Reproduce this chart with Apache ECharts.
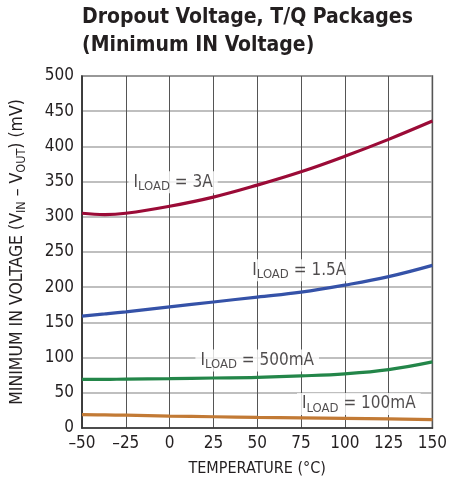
<!DOCTYPE html>
<html><head><meta charset="utf-8">
<script src="https://cdn.jsdelivr.net/npm/echarts@6/dist/echarts.min.js"></script>
<style>html,body{margin:0;padding:0;background:#fff}#c{width:450px;height:485px}</style>
</head><body><div id="c"></div>
<script>
const temps = [-50, -37, -25, 0, 25, 50, 75, 100, 125, 150];
const load3A    = [305, 303, 305, 315, 328, 345, 364, 386, 410, 436];
const load1p5A  = [159, 162, 165, 172, 179, 186, 193, 203, 215, 231];
const load500mA = [69, 69, 69.5, 70, 71, 72, 74, 77, 83, 94];
const load100mA = [19, 18.6, 18.2, 17, 16, 15, 14.3, 13.7, 13, 12];
const xTicks = [-50, -25, 0, 25, 50, 75, 100, 125, 150];
const yTicks = [0, 50, 100, 150, 200, 250, 300, 350, 400, 450, 500];
const curveLabels = [
  {x: 2, y: 349, load: '3A'},
  {x: 74, y: 224, load: '1.5A'},
  {x: 50, y: 96, load: '500mA'},
  {x: 108, y: 34, load: '100mA'}
];
const FONT = '"DejaVu Sans Condensed", "Liberation Sans", sans-serif';
const pair = (ys) => temps.map((t, i) => [t, ys[i]]);
const chart = echarts.init(document.getElementById('c'), null, {renderer: 'canvas'});
const lineSeries = (data, color) => ({
  type: 'line', data: pair(data), smooth: 0.4, symbol: 'none',
  lineStyle: {color, width: 3.2}, z: 3
});
chart.setOption({
  animation: false,
  backgroundColor: '#fff',
  textStyle: {fontFamily: FONT},
  title: {
    text: 'Dropout Voltage, T/Q Packages\n(Minimum IN Voltage)',
    left: 82, top: 4, padding: 0,
    textStyle: {fontFamily: FONT, fontWeight: 'bold', fontSize: 21, lineHeight: 28, color: '#231f20'}
  },
  grid: {left: 81, right: 17, top: 76, bottom: 57, show: true, borderColor: '#333', borderWidth: 1.5},
  xAxis: {
    type: 'value', min: -50, max: 150, interval: 25,
    name: 'TEMPERATURE (°C)', nameLocation: 'middle', nameGap: 33,
    nameTextStyle: {fontFamily: FONT, fontSize: 16, color: '#231f20'},
    axisLine: {show: true, onZero: false, lineStyle: {color: '#333', width: 1.5}},
    axisTick: {show: false},
    axisLabel: {fontFamily: FONT, fontSize: 17, color: '#231f20', margin: 7,
      formatter: v => xTicks.includes(v) ? String(v).replace('-', '\u2013') : ''},
    splitLine: {show: true, lineStyle: {color: '#555', width: 1}}
  },
  yAxis: {
    type: 'value', min: 0, max: 500, interval: 50,
    name: '{a|MINIMUM IN VOLTAGE (V}{s|IN}{a| \u2013 V}{s|OUT}{a|) (mV)}',
    nameLocation: 'middle', nameGap: 54, nameRotate: 90,
    nameTextStyle: {
      rich: {
        a: {fontFamily: FONT, fontSize: 17.5, color: '#231f20'},
        s: {fontFamily: FONT, fontSize: 12.5, color: '#231f20', padding: [9, 0, 0, 0]}
      }
    },
    axisLine: {show: true, onZero: false, lineStyle: {color: '#333', width: 1.5}},
    axisTick: {show: false},
    axisLabel: {fontFamily: FONT, fontSize: 17, color: '#231f20', margin: 8,
      formatter: v => yTicks.includes(v) ? String(v) : ''},
    splitLine: {show: true, lineStyle: {color: '#aaa', width: 1.5}}
  },
  series: [
    lineSeries(load3A, '#9b0b37'),
    lineSeries(load1p5A, '#3552a8'),
    lineSeries(load500mA, '#238649'),
    lineSeries(load100mA, '#c27a35'),
    {
      type: 'scatter', symbolSize: 0, z: 5,
      data: curveLabels.map(l => ({value: [l.x, l.y], load: l.load})),
      label: {
        show: true, position: 'inside',
        backgroundColor: '#fff', padding: [0, 5, 0, 5],
        formatter: p => '{i|I}{s|LOAD}{i| = ' + p.data.load + '}',
        rich: {
          i: {fontFamily: FONT, fontSize: 17, color: '#231f20'},
          s: {fontFamily: FONT, fontSize: 13, color: '#231f20', padding: [9, 0, 0, 0]}
        }
      }
    }
  ]
});
</script></body></html>
